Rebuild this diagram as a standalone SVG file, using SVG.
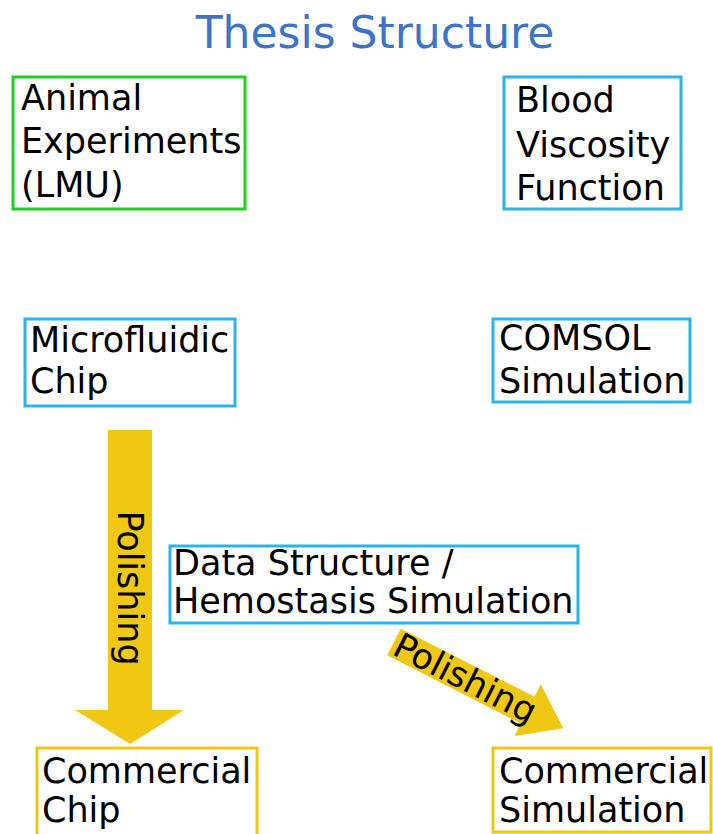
<svg xmlns="http://www.w3.org/2000/svg" width="713" height="834" viewBox="0 0 713 834">
<style>
.t{font-family:"DejaVu Sans",Verdana,sans-serif;font-size:35px;fill:#000}
.title{font-family:"DejaVu Sans",Verdana,sans-serif;font-size:44px;fill:#3d73c9}
.g{fill:#fff;stroke:#1fd11f;stroke-width:3}
.b{fill:#fff;stroke:#2ab4ea;stroke-width:3}
.y{fill:#fff;stroke:#f0c814;stroke-width:3}
.arr{fill:#f0c814}
</style>
<rect width="713" height="834" fill="#fff"/>
<text class="title" x="375" y="48" text-anchor="middle">Thesis Structure</text>
<g id="connectors">
<g id="arrow-down">
<path class="arr" d="M108,430 H152 V710 H184 L130,744 L75,710 H108 Z"/>
<text class="t" transform="translate(118,588) rotate(90)" text-anchor="middle">Polishing</text>
</g>
<g id="arrow-diag" transform="translate(394,642) rotate(27)">
<path class="arr" d="M0,-15 H150 V-29 L190,0 L150,29 V15 H0 Z"/>
<text class="t" x="80" y="12" text-anchor="middle">Polishing</text>
</g>
</g>
<g id="animal">
<rect class="g" x="13" y="77" width="232" height="132"/>
<text class="t" x="21" y="110">Animal</text>
<text class="t" x="21" y="153">Experiments</text>
<text class="t" x="21" y="197">(LMU)</text>
</g>
<g id="blood">
<rect class="b" x="504" y="77" width="177" height="132"/>
<text class="t" x="516" y="112">Blood</text>
<text class="t" x="516" y="157">Viscosity</text>
<text class="t" x="516" y="200">Function</text>
</g>
<g id="microfluidic">
<rect class="b" x="25" y="319" width="210" height="87"/>
<text class="t" x="30" y="352">Microfluidic</text>
<text class="t" x="30" y="393">Chip</text>
</g>
<g id="comsol">
<rect class="b" x="493" y="319" width="197" height="83"/>
<text class="t" x="499" y="350">COMSOL</text>
<text class="t" x="499" y="393">Simulation</text>
</g>
<g id="data">
<rect class="b" x="170" y="546" width="408" height="77"/>
<text class="t" x="173" y="575">Data Structure /</text>
<text class="t" x="173" y="613">Hemostasis Simulation</text>
</g>
<g id="commercial-chip">
<rect class="y" x="37" y="748" width="220" height="95"/>
<text class="t" x="42" y="783">Commercial</text>
<text class="t" x="42" y="822">Chip</text>
</g>
<g id="commercial-sim">
<rect class="y" x="493" y="748" width="218" height="84"/>
<text class="t" x="499" y="783">Commercial</text>
<text class="t" x="499" y="822">Simulation</text>
</g>
</svg>
